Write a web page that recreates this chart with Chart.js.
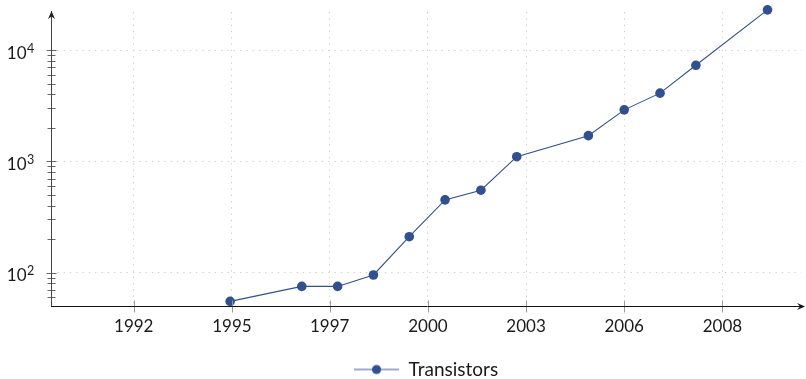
<!DOCTYPE html>
<html>
<head>
<meta charset="utf-8">
<script src="https://cdn.jsdelivr.net/npm/chart.js@4/dist/chart.umd.min.js"></script>
<style>
  html, body { margin: 0; padding: 0; background: #fff; }
  #wrap { width: 806px; height: 379px; }
</style>
</head>
<body>
<div id="wrap"><canvas id="chart"></canvas></div>
<script>
const years = [1995, 1997, 1998, 1999, 2000, 2001, 2002, 2003, 2005, 2006, 2007, 2008, 2010]
const transistors = [55, 75, 75, 95, 210, 450, 550, 1100, 1700, 2900, 4100, 7300, 23000]

// x ticks sit 1000 days apart, labelled with the year they fall in
const xTickValues = [1992.31, 1995.05, 1997.78, 2000.52, 2003.26, 2006.0, 2008.74]
const xTickLabels = ["1992", "1995", "1997", "2000", "2003", "2006", "2008"]

const yMajorTicks = [100, 1000, 10000]
const yTickExponents = ["2", "3", "4"]
const yMinorTicks = [60, 70, 80, 90, 200, 300, 400, 500, 600, 700, 800, 900,
  2000, 3000, 4000, 5000, 6000, 7000, 8000, 9000]

const FONT = "Lato, 'Noto Sans', sans-serif"
const LINE_COLOR = "#30508f"
const GRID_COLOR = "#cdcdcd"

// legend symbol: short line with a dot in the middle
function legendSymbol() {
  const c = document.createElement("canvas")
  c.width = 45
  c.height = 12
  const g = c.getContext("2d")
  g.strokeStyle = "#7d90bd"
  g.lineWidth = 1.5
  g.beginPath()
  g.moveTo(0, 6)
  g.lineTo(45, 6)
  g.stroke()
  g.fillStyle = LINE_COLOR
  g.beginPath()
  g.arc(22.5, 6, 4.6, 0, Math.PI * 2)
  g.fill()
  return c
}

const axisDecor = {
  id: "axisDecor",
  afterDraw(chart) {
    const { ctx, chartArea: area, scales } = chart
    const x = scales.x
    const y = scales.y
    const left = Math.round(area.left) + 0.5
    const bottom = Math.round(area.bottom) + 0.5
    ctx.save()

    // y tick marks across the axis
    ctx.lineWidth = 1
    ctx.strokeStyle = "#666"
    y.ticks.forEach(t => {
      const py = Math.round(y.getPixelForValue(t.value)) + 0.5
      const half = t.major ? 5 : 4
      ctx.beginPath()
      ctx.moveTo(left - half, py)
      ctx.lineTo(left + half, py)
      ctx.stroke()
    })

    // x tick marks across the axis
    ctx.strokeStyle = "#9a9a9a"
    x.ticks.forEach(t => {
      const px = Math.round(x.getPixelForValue(t.value)) + 0.5
      ctx.beginPath()
      ctx.moveTo(px, bottom - 6)
      ctx.lineTo(px, bottom + 6)
      ctx.stroke()
    })

    // y axis with arrow
    ctx.strokeStyle = "#444"
    ctx.beginPath()
    ctx.moveTo(left, bottom)
    ctx.lineTo(left, area.top - 1)
    ctx.stroke()
    ctx.fillStyle = "#222"
    ctx.beginPath()
    ctx.moveTo(left, area.top - 1)
    ctx.lineTo(left - 3.5, area.top + 7)
    ctx.lineTo(left, area.top + 4.5)
    ctx.lineTo(left + 3.5, area.top + 7)
    ctx.closePath()
    ctx.fill()

    // x axis with arrow
    const tip = 805
    ctx.strokeStyle = "#111"
    ctx.beginPath()
    ctx.moveTo(area.left, bottom)
    ctx.lineTo(tip - 1, bottom)
    ctx.stroke()
    ctx.fillStyle = "#111"
    ctx.beginPath()
    ctx.moveTo(tip, bottom)
    ctx.lineTo(tip - 8, bottom - 3.5)
    ctx.lineTo(tip - 5, bottom)
    ctx.lineTo(tip - 8, bottom + 3.5)
    ctx.closePath()
    ctx.fill()

    // y labels as 10 with a raised exponent
    ctx.fillStyle = "#1a1a1a"
    yMajorTicks.forEach((v, i) => {
      const py = y.getPixelForValue(v)
      ctx.font = "17px " + FONT
      ctx.textAlign = "right"
      ctx.textBaseline = "alphabetic"
      ctx.fillText("10", 26.5, py + 8.7)
      ctx.font = "12.5px " + FONT
      ctx.textAlign = "left"
      ctx.fillText(yTickExponents[i], 27, py + 2.8)
    })

    ctx.restore()
  },
}

new Chart(document.getElementById("chart"), {
  type: "line",
  data: {
    datasets: [
      {
        label: "Transistors",
        data: years.map((yr, i) => ({ x: yr, y: transistors[i] })),
        borderColor: LINE_COLOR,
        backgroundColor: LINE_COLOR,
        borderWidth: 1.1,
        pointRadius: 4.8,
        pointHoverRadius: 4.8,
        pointBorderWidth: 0,
        tension: 0,
        clip: false,
      },
    ],
  },
  options: {
    responsive: true,
    maintainAspectRatio: false,
    animation: false,
    layout: { padding: { top: 12, right: 2, left: 0, bottom: -10 } },
    plugins: {
      legend: {
        position: "bottom",
        fullSize: false,
        labels: {
          usePointStyle: true,
          pointStyle: legendSymbol(),
          pointStyleWidth: 45,
          color: "#1a1a1a",
          font: { family: FONT, size: 19 },
          padding: 10,
        },
      },
      tooltip: { enabled: false },
    },
    scales: {
      x: {
        type: "linear",
        min: 1990.0,
        max: 2010.94,
        afterBuildTicks: scale => {
          scale.ticks = xTickValues.map(v => ({ value: v }))
        },
        afterFit: scale => {
          scale.height = 44
        },
        ticks: {
          callback: (v, i) => xTickLabels[i],
          color: "#1a1a1a",
          font: { family: FONT, size: 17 },
          padding: 10,
          maxRotation: 0,
          autoSkip: false,
        },
        grid: { color: GRID_COLOR, drawTicks: false, lineWidth: 1 },
        border: { display: false, dash: [1.3, 5] },
      },
      y: {
        type: "logarithmic",
        min: 50,
        max: 22000,
        afterBuildTicks: scale => {
          scale.ticks = yMajorTicks.map(v => ({ value: v, major: true }))
            .concat(yMinorTicks.map(v => ({ value: v, major: false })))
        },
        afterFit: scale => {
          scale.width = 51
        },
        ticks: { display: false },
        grid: {
          color: ctx => (ctx.tick && ctx.tick.major ? GRID_COLOR : "rgba(0,0,0,0)"),
          drawTicks: false,
          lineWidth: 1,
        },
        border: { display: false, dash: [1.3, 5] },
      },
    },
  },
  plugins: [axisDecor],
})
</script>
</body>
</html>
